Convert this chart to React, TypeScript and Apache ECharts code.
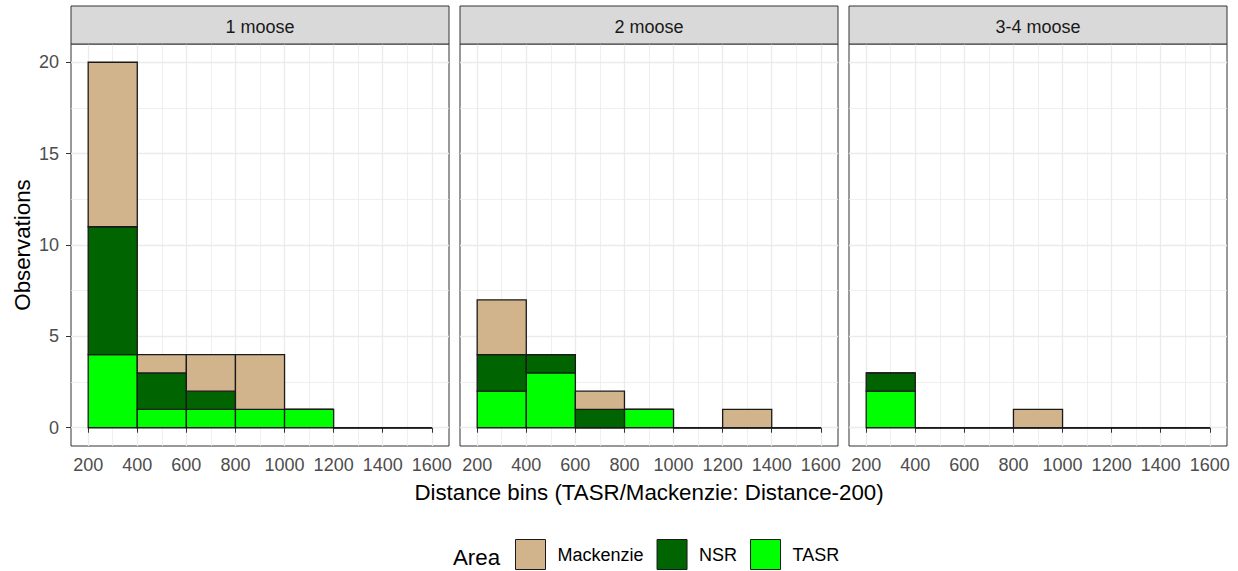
import React, { useEffect, useRef } from "react";
import * as echarts from "echarts";

// ---- data ----
const binStarts = [200, 400, 600, 800, 1000, 1200, 1400];
const binWidth = 200;
const panels = ["1 moose", "2 moose", "3-4 moose"];
const areas = ["Mackenzie", "NSR", "TASR"];
const areaColors = ["#D2B48C", "#006400", "#00FF00"];
// counts per panel (rows) per bin (cols)
const tasrCounts = [
  [4, 1, 1, 1, 1, 0, 0],
  [2, 3, 0, 1, 0, 0, 0],
  [2, 0, 0, 0, 0, 0, 0],
];
const nsrCounts = [
  [7, 2, 1, 0, 0, 0, 0],
  [2, 1, 1, 0, 0, 0, 0],
  [1, 0, 0, 0, 0, 0, 0],
];
const mackenzieCounts = [
  [9, 1, 2, 3, 0, 0, 0],
  [3, 0, 1, 0, 0, 1, 0],
  [0, 0, 0, 1, 0, 0, 0],
];
const xTicks = [200, 400, 600, 800, 1000, 1200, 1400, 1600];
const xMinor = [300, 500, 700, 900, 1100, 1300, 1500];
const yTicks = [0, 5, 10, 15, 20];
const yMinor = [2.5, 7.5, 12.5, 17.5];
const xTitle = "Distance bins (TASR/Mackenzie: Distance-200)";
const yTitle = "Observations";
const legendTitle = "Area";

const FONT = "'Liberation Sans', Arial, Helvetica, sans-serif";
const SMALL = 18;
const LARGE = 22.3;

export default function App() {
  const ref = useRef<HTMLDivElement>(null);

  useEffect(() => {
    document.body.style.margin = "0";
    if (!ref.current) return;
    const chart = echarts.init(ref.current, undefined, { renderer: "svg" });

    const gridLefts = [71, 460, 849];
    const gridW = 378;
    const gridTop = 44;
    const gridH = 402;

    const grids = gridLefts.map((l) => ({
      left: l,
      top: gridTop,
      width: gridW,
      height: gridH,
      show: true,
      borderColor: "#333333",
      borderWidth: 1,
      backgroundColor: "#ffffff",
      containLabel: false,
    }));

    const fmt = (v: number) => String(v);

    const majorX = gridLefts.map((_, i) => ({
      type: "value",
      gridIndex: i,
      min: 130,
      max: 1670,
      axisLine: { show: false },
      axisTick: {
        show: true,
        length: 5,
        lineStyle: { color: "#333333", width: 1 },
        customValues: xTicks,
      },
      axisLabel: {
        show: true,
        customValues: xTicks,
        formatter: fmt,
        margin: 10,
        color: "#4D4D4D",
        fontSize: SMALL,
        fontFamily: FONT,
      },
      splitLine: { show: true, lineStyle: { color: "#EBEBEB", width: 1.3 } },
    }));
    const minorX = gridLefts.map((_, i) => ({
      type: "value",
      gridIndex: i,
      min: 130,
      max: 1670,
      axisLine: { show: false },
      axisTick: { show: false, customValues: xMinor },
      axisLabel: { show: false, customValues: xMinor },
      splitLine: { show: true, lineStyle: { color: "#EBEBEB", width: 0.8 } },
    }));
    const majorY = gridLefts.map((_, i) => ({
      type: "value",
      gridIndex: i,
      min: -1,
      max: 21,
      axisLine: { show: false },
      axisTick: {
        show: i === 0,
        length: 5,
        lineStyle: { color: "#333333", width: 1 },
        customValues: yTicks,
      },
      axisLabel: {
        show: i === 0,
        customValues: yTicks,
        formatter: fmt,
        margin: 12,
        color: "#4D4D4D",
        fontSize: SMALL,
        fontFamily: FONT,
      },
      splitLine: { show: true, lineStyle: { color: "#EBEBEB", width: 1.3 } },
    }));
    const minorY = gridLefts.map((_, i) => ({
      type: "value",
      gridIndex: i,
      min: -1,
      max: 21,
      axisLine: { show: false },
      axisTick: { show: false, customValues: yMinor },
      axisLabel: { show: false, customValues: yMinor },
      splitLine: { show: true, lineStyle: { color: "#EBEBEB", width: 0.8 } },
    }));

    // stacking bottom -> top: TASR, NSR, Mackenzie
    const stackOrder: { name: string; counts: number[][] }[] = [
      { name: "TASR", counts: tasrCounts },
      { name: "NSR", counts: nsrCounts },
      { name: "Mackenzie", counts: mackenzieCounts },
    ];

    const series: any[] = [];
    panels.forEach((_, p) => {
      const base = binStarts.map(() => 0);
      stackOrder.forEach((s) => {
        const color = areaColors[areas.indexOf(s.name)];
        const data = binStarts.map((x0, b) => {
          const lo = base[b];
          const hi = lo + s.counts[p][b];
          base[b] = hi;
          return [x0, x0 + binWidth, lo, hi];
        });
        series.push({
          type: "custom",
          name: s.name,
          xAxisIndex: p,
          yAxisIndex: p,
          z: 5,
          itemStyle: { color, borderColor: "#1a1a1a", borderWidth: 1 },
          encode: { x: [0, 1], y: [2, 3] },
          data,
          renderItem: (params: any, api: any) => {
            const a = api.coord([api.value(0), api.value(3)]);
            const b = api.coord([api.value(1), api.value(2)]);
            return {
              type: "rect",
              shape: { x: a[0], y: a[1], width: b[0] - a[0], height: b[1] - a[1] },
              style: { fill: color, stroke: "#1a1a1a", lineWidth: 1.3 },
            };
          },
        });
      });
    });

    const graphics: any[] = [];
    panels.forEach((name, p) => {
      graphics.push({
        type: "rect",
        shape: { x: gridLefts[p], y: 6, width: gridW, height: gridTop - 6 },
        style: { fill: "#D9D9D9", stroke: "#333333", lineWidth: 1 },
        z: 10,
      });
      graphics.push({
        type: "text",
        x: gridLefts[p] + gridW / 2,
        y: 27,
        style: {
          text: name,
          fill: "#1A1A1A",
          fontSize: SMALL,
          fontFamily: FONT,
          align: "center",
          verticalAlign: "middle",
        },
        z: 11,
      });
    });
    graphics.push({
      type: "text",
      x: (gridLefts[0] + gridLefts[2] + gridW) / 2,
      y: 492,
      style: {
        text: xTitle,
        fill: "#000000",
        fontSize: LARGE,
        fontFamily: FONT,
        align: "center",
        verticalAlign: "middle",
      },
    });
    graphics.push({
      type: "text",
      x: 22,
      y: gridTop + gridH / 2,
      rotation: Math.PI / 2,
      style: {
        text: yTitle,
        fill: "#000000",
        fontSize: LARGE,
        fontFamily: FONT,
        align: "center",
        verticalAlign: "middle",
      },
    });
    graphics.push({
      type: "text",
      x: 453,
      y: 557,
      style: {
        text: legendTitle,
        fill: "#000000",
        fontSize: LARGE,
        fontFamily: FONT,
        align: "left",
        verticalAlign: "middle",
      },
    });

    chart.setOption({
      animation: false,
      backgroundColor: "#ffffff",
      grid: grids,
      xAxis: [...majorX, ...minorX],
      yAxis: [...majorY, ...minorY],
      series,
      graphic: graphics,
      legend: {
        data: areas.map((a, i) => ({
          name: a,
          icon: "rect",
          itemStyle: { color: areaColors[i], borderColor: "#1a1a1a", borderWidth: 1 },
        })),
        left: 515,
        top: 539,
        padding: 0,
        itemWidth: 30,
        itemHeight: 30,
        itemGap: 13,
        selectedMode: false,
        textStyle: {
          color: "#000000",
          fontSize: SMALL,
          fontFamily: FONT,
          padding: [4, 0, 0, 7],
        },
      },
    });

    return () => chart.dispose();
  }, []);

  return <div ref={ref} style={{ width: 1238, height: 571 }} />;
}
